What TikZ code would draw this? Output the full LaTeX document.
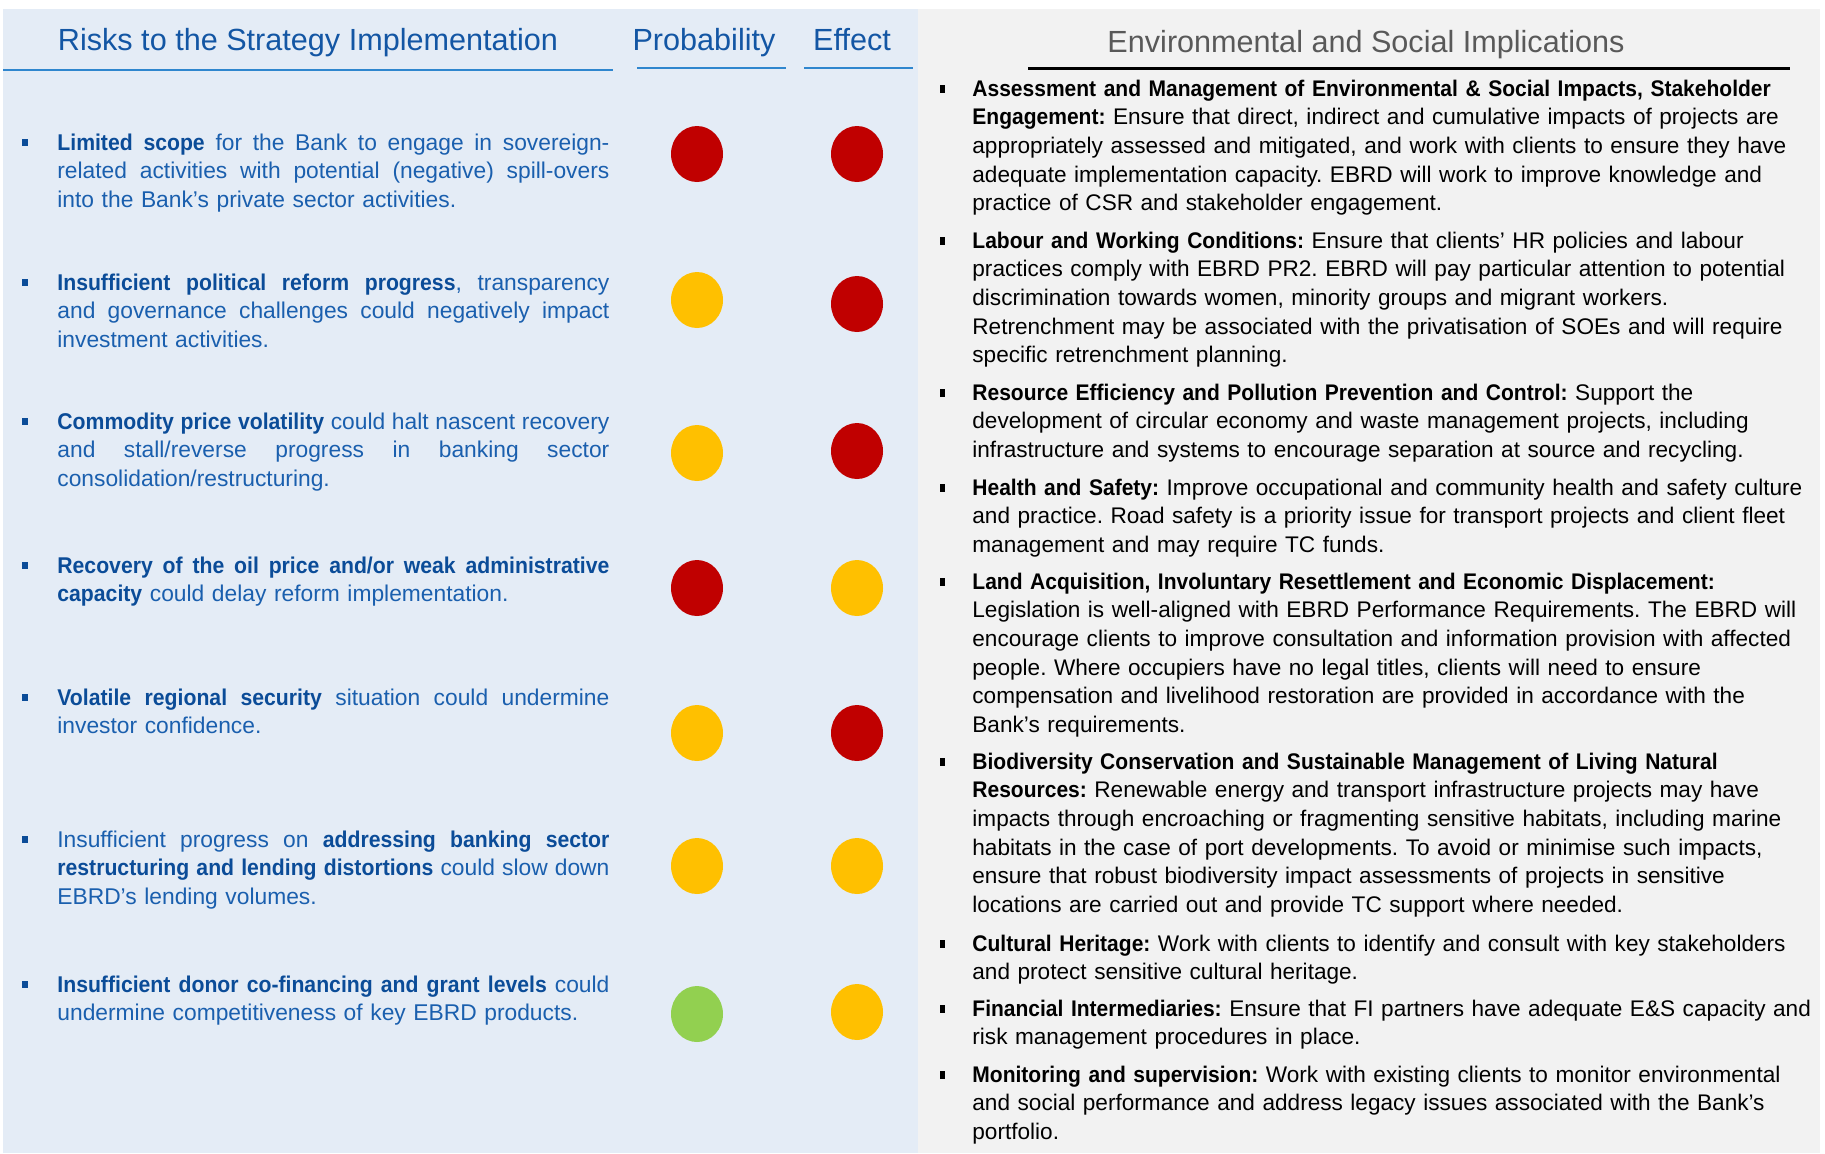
\documentclass[tikz,border=0pt]{standalone}
\usepackage{fontspec}
\setmainfont{Liberation Sans}[BoldFeatures={FakeStretch=0.93}]
\usetikzlibrary{shapes.geometric}

\definecolor{riskred}{HTML}{C00000}
\definecolor{riskamber}{HTML}{FFC000}
\definecolor{riskgreen}{HTML}{92D050}
\definecolor{panelblue}{HTML}{E4ECF6}
\definecolor{panelgray}{HTML}{F2F2F2}
\definecolor{headblue}{HTML}{1356A4}
\definecolor{textblue}{HTML}{1A5FAE}
\definecolor{boldblue}{HTML}{0B4C98}
\definecolor{ruleblue}{HTML}{2F86CE}
\definecolor{headgray}{HTML}{595959}

\frenchspacing
\newcommand\riskfont{\fontsize{11.4}{14.25}\selectfont}
\newcommand\esfont{\fontsize{11.3}{14.35}\selectfont}
\newcommand\kb[1]{{\bfseries\color{boldblue}#1}}% key words, left side
% justified line: spaces stretch to the column width
\newcommand\jl[1]{\leavevmode{\spaceskip=\fontdimen2\font plus 1fil minus 0.35\fontdimen2\font
  \hbox to 276pt{#1}}}

\begin{document}
\begin{tikzpicture}[x=0.5pt,y=-0.5pt,
  head/.style={font=\fontsize{15.3}{18}\selectfont,inner sep=0,anchor=base},
  risk/.style={font=\riskfont,text=textblue,text width=276pt,align=left,inner sep=0,anchor=base west},
  implic/.style={font=\esfont,text=black,text width=430pt,align=left,inner sep=0,anchor=base west},
  dot/.style={ellipse,minimum width=26pt,minimum height=28pt,inner sep=0},
  riskbullet/.style={fill=boldblue,minimum width=3pt,minimum height=3.5pt,inner sep=0},
  esbullet/.style={fill=black,minimum width=2.75pt,minimum height=3.75pt,inner sep=0}]%
\useasboundingbox (0,0) rectangle (1825,1153);%
% panels
\fill[panelblue] (3,9) rectangle (918,1153);%
\fill[panelgray] (918,9) rectangle (1820,1153);%
% headings
\node[head,text=headblue] (risktitle) at (308,50) {Risks to the Strategy Implementation};%
\node[head,text=headblue] (probtitle) at (704,50) {Probability};%
\node[head,text=headblue] (efftitle) at (852,50) {Effect};%
\node[head,text=headgray] (estitle) at (1366,52) {Environmental and Social Implications};%
\draw[ruleblue,line width=1.3pt] (3,70) -- (613,70);%
\draw[ruleblue,line width=1.3pt] (637,68) -- (786,68);%
\draw[ruleblue,line width=1.3pt] (804,68) -- (913,68);%
\draw[black,line width=1.5pt] (1028,68) -- (1790,68);%
% risks
\node[riskbullet] (rb1) at (24.5,142) {};%
\node[risk] (risk1) at (57,150) {\jl{\kb{Limited scope} for the Bank to engage in sovereign-}\\
  \jl{related activities with potential (negative) spill-overs}\\
  into the Bank’s private sector activities.};%
\node[riskbullet] (rb2) at (24.5,282) {};%
\node[risk] (risk2) at (57,290) {\jl{\kb{Insufficient political reform progress}, transparency}\\
  \jl{and governance challenges could negatively impact}\\
  investment activities.};%
\node[riskbullet] (rb3) at (24.5,421) {};%
\node[risk] (risk3) at (57,429) {\jl{\kb{Commodity price volatility} could halt nascent recovery}\\
  \jl{and stall/reverse progress in banking sector}\\
  consolidation/restructuring.};%
\node[riskbullet] (rb4) at (24.5,565) {};%
\node[risk] (risk4) at (57,573) {\jl{\kb{Recovery of the oil price and/or weak administrative}}\\
  \kb{capacity} could delay reform implementation.};%
\node[riskbullet] (rb5) at (24.5,697) {};%
\node[risk] (risk5) at (57,705) {\jl{\kb{Volatile regional security} situation could undermine}\\
  investor confidence.};%
\node[riskbullet] (rb6) at (24.5,839) {};%
\node[risk] (risk6) at (57,847) {\jl{Insufficient progress on \kb{addressing banking sector}}\\
  \jl{\kb{restructuring and lending distortions} could slow down}\\
  EBRD’s lending volumes.};%
\node[riskbullet] (rb7) at (24.5,984) {};%
\node[risk] (risk7) at (57,992) {\jl{\kb{Insufficient donor co-financing and grant levels} could}\\
  undermine competitiveness of key EBRD products.};%
% probability and effect
\foreach \n/\yp/\ye/\cp/\ce in {1/154/154/riskred/riskred,2/300/304/riskamber/riskred,
  3/453/451/riskamber/riskred,4/588/588/riskred/riskamber,5/733/733/riskamber/riskred,
  6/866/866/riskamber/riskamber,7/1014/1012/riskgreen/riskamber}{%
  \node[dot,fill=\cp] (prob\n) at (697,\yp) {};%
  \node[dot,fill=\ce] (eff\n) at (857,\ye) {};%
}%
% implications
\node[esbullet] (eb1) at (942.5,89) {};%
\node[implic] (es1) at (972,96) {\textbf{Assessment and Management of Environmental \& Social Impacts, Stakeholder}\\
  \textbf{Engagement:} Ensure that direct, indirect and cumulative impacts of projects are\\
  appropriately assessed and mitigated, and work with clients to ensure they have\\
  adequate implementation capacity. EBRD will work to improve knowledge and\\
  practice of CSR and stakeholder engagement.};%
\node[esbullet] (eb2) at (942.5,241) {};%
\node[implic] (es2) at (972,248) {\textbf{Labour and Working Conditions:} Ensure that clients’ HR policies and labour\\
  practices comply with EBRD PR2. EBRD will pay particular attention to potential\\
  discrimination towards women, minority groups and migrant workers.\\
  Retrenchment may be associated with the privatisation of SOEs and will require\\
  specific retrenchment planning.};%
\node[esbullet] (eb3) at (942.5,393) {};%
\node[implic] (es3) at (972,400) {\textbf{Resource Efficiency and Pollution Prevention and Control:} Support the\\
  development of circular economy and waste management projects, including\\
  infrastructure and systems to encourage separation at source and recycling.};%
\node[esbullet] (eb4) at (942.5,488) {};%
\node[implic] (es4) at (972,495) {\textbf{Health and Safety:} Improve occupational and community health and safety culture\\
  and practice. Road safety is a priority issue for transport projects and client fleet\\
  management and may require TC funds.};%
\node[esbullet] (eb5) at (942.5,582) {};%
\node[implic] (es5) at (972,589) {\textbf{Land Acquisition, Involuntary Resettlement and Economic Displacement:}\\
  Legislation is well-aligned with EBRD Performance Requirements. The EBRD will\\
  encourage clients to improve consultation and information provision with affected\\
  people. Where occupiers have no legal titles, clients will need to ensure\\
  compensation and livelihood restoration are provided in accordance with the\\
  Bank’s requirements.};%
\node[esbullet] (eb6) at (942.5,762) {};%
\node[implic] (es6) at (972,769) {\textbf{Biodiversity Conservation and Sustainable Management of Living Natural}\\
  \textbf{Resources:} Renewable energy and transport infrastructure projects may have\\
  impacts through encroaching or fragmenting sensitive habitats, including marine\\
  habitats in the case of port developments. To avoid or minimise such impacts,\\
  ensure that robust biodiversity impact assessments of projects in sensitive\\
  locations are carried out and provide TC support where needed.};%
\node[esbullet] (eb7) at (942.5,944) {};%
\node[implic] (es7) at (972,951) {\textbf{Cultural Heritage:} Work with clients to identify and consult with key stakeholders\\
  and protect sensitive cultural heritage.};%
\node[esbullet] (eb8) at (942.5,1009) {};%
\node[implic] (es8) at (972,1016) {\textbf{Financial Intermediaries:} Ensure that FI partners have adequate E\&S capacity and\\
  risk management procedures in place.};%
\node[esbullet] (eb9) at (942.5,1075) {};%
\node[implic] (es9) at (972,1082) {\textbf{Monitoring and supervision:} Work with existing clients to monitor environmental\\
  and social performance and address legacy issues associated with the Bank’s\\
  portfolio.};%
\end{tikzpicture}
\end{document}
